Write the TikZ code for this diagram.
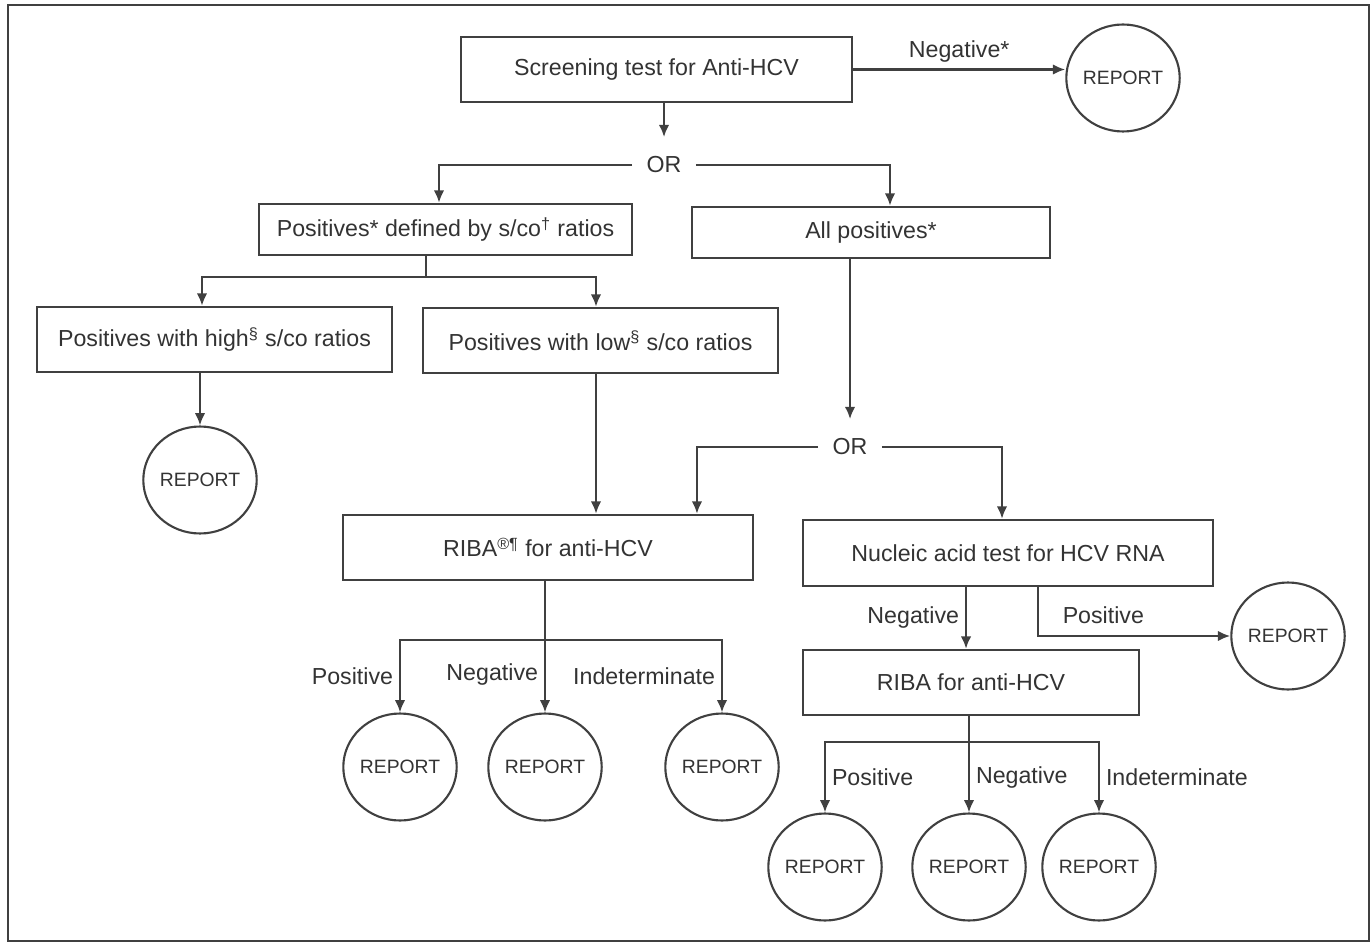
\documentclass[tikz,border=0pt]{standalone}
\usepackage{fontspec}
\setmainfont{Liberation Sans}
\usetikzlibrary{arrows.meta}
\usetikzlibrary{shapes.geometric}

\tikzset{
  box/.style={draw=black!75, line width=1.4pt, minimum height=1.3cm, inner sep=2pt},
  report/.style={ellipse, draw=black!75, line width=1.2pt, minimum width=2.04cm, minimum height=2.14cm, inner sep=0pt, font=\fontsize{11}{13}\selectfont},
  arr/.style={draw=black!75, line width=1.3pt, -{Latex[length=7pt,width=6pt]}},
  ln/.style={draw=black!75, line width=1.3pt},
  ornode/.style={inner xsep=8pt, inner ysep=11pt}
}

\begin{document}
\begin{tikzpicture}[x=0.02cm, y=-0.02cm, font=\fontsize{13.2}{16}\selectfont, text=black!80]
  \useasboundingbox (0,0) rectangle (1371,945);
  \draw[line width=1.6pt, black!75] (8,5) rectangle (1369,941); %% frame

  %% screening
  \node[box, minimum width=7.82cm] (screen) at (656.5,69.5) {Screening test for Anti-HCV};
  \node[report] (rep0) at (1123,78) {REPORT};
  \node[ornode] (or1) at (664,165) {OR};
  \node[box, minimum width=7.46cm, minimum height=1.02cm] (posdef) at (445.5,229.5) {Positives* defined by s/co\textsuperscript{†} ratios};
  \node[box, minimum width=7.16cm, minimum height=1.02cm] (allpos) at (871,232.5) {All positives*};
  \node[box, minimum width=7.1cm] (high) at (214.5,339.5) {Positives with high\textsuperscript{§} s/co ratios};
  \node[box, minimum width=7.1cm] (low) at (600.5,340.5) {Positives with low\textsuperscript{§} s/co ratios};
  \node[report] (rep1) at (200,480) {REPORT};

  %% supplemental tests
  \node[ornode] (or2) at (850,447) {OR};
  \node[box, minimum width=8.2cm] (riba1) at (548,547.5) {RIBA\textsuperscript{®¶} for anti-HCV};
  \node[box, minimum width=8.2cm, minimum height=1.32cm] (nat) at (1008,553) {Nucleic acid test for HCV RNA};
  \node[report] (rep2) at (400,767) {REPORT};
  \node[report] (rep3) at (545,767) {REPORT};
  \node[report] (rep4) at (722,767) {REPORT};
  \node[report] (rep5) at (1288,636) {REPORT};
  \node[box, minimum width=6.72cm] (riba2) at (971,682.5) {RIBA for anti-HCV};
  \node[report] (rep6) at (825,867) {REPORT};
  \node[report] (rep7) at (969,867) {REPORT};
  \node[report] (rep8) at (1099,867) {REPORT};

  \coordinate (j1) at (426,277);
  \coordinate (j2) at (545,640);
  \coordinate (j3) at (969,742);

  %% connectors
  \draw[arr] (screen.east) -- node[above]{Negative*} (screen.east -| rep0.west);
  \draw[arr] (screen.south -| or1) -- (or1);
  \draw[arr] (or1) -| ([xshift=-0.13cm]posdef.north);
  \draw[arr] (or1) -| ([xshift=0.38cm]allpos.north);
  \draw[ln] (posdef.south -| j1) -- (j1);
  \draw[arr] (j1) -| ([xshift=-0.25cm]high.north);
  \draw[arr] (j1) -| ([xshift=-0.09cm]low.north);
  \draw[arr] (high.south -| rep1) -- (rep1);
  \draw[arr] ([xshift=-0.09cm]low.south) -- ([xshift=-0.09cm]low.south |- riba1.north);
  \draw[arr] (allpos.south -| or2) -- (or2);
  \draw[arr] (or2) -| ([xshift=2.98cm]riba1.north);
  \draw[arr] (or2) -| ([xshift=-0.12cm]nat.north);

  \draw[ln] (riba1.south -| j2) -- (j2);
  \draw[arr] (j2) -| node[pos=0.75, left]{Positive} (rep2);
  \draw[arr] (j2) -- node[left, yshift=1pt]{Negative} (rep3);
  \draw[arr] (j2) -| node[pos=0.75, left]{Indeterminate} (rep4);

  \draw[arr] ([xshift=-0.84cm]nat.south) -- node[left]{Negative} ([xshift=-0.84cm]nat.south |- riba2.north);
  \draw[arr] ([xshift=0.6cm]nat.south) |- node[pos=0.67, above, yshift=3pt]{Positive} (rep5);

  \draw[ln] (riba2.south -| j3) -- (j3);
  \draw[arr] (j3) -| node[pos=0.75, right]{Positive} (rep6);
  \draw[arr] (j3) -- node[right]{Negative} (rep7);
  \draw[arr] (j3) -| node[pos=0.75, right]{Indeterminate} (rep8);
\end{tikzpicture}
\end{document}
